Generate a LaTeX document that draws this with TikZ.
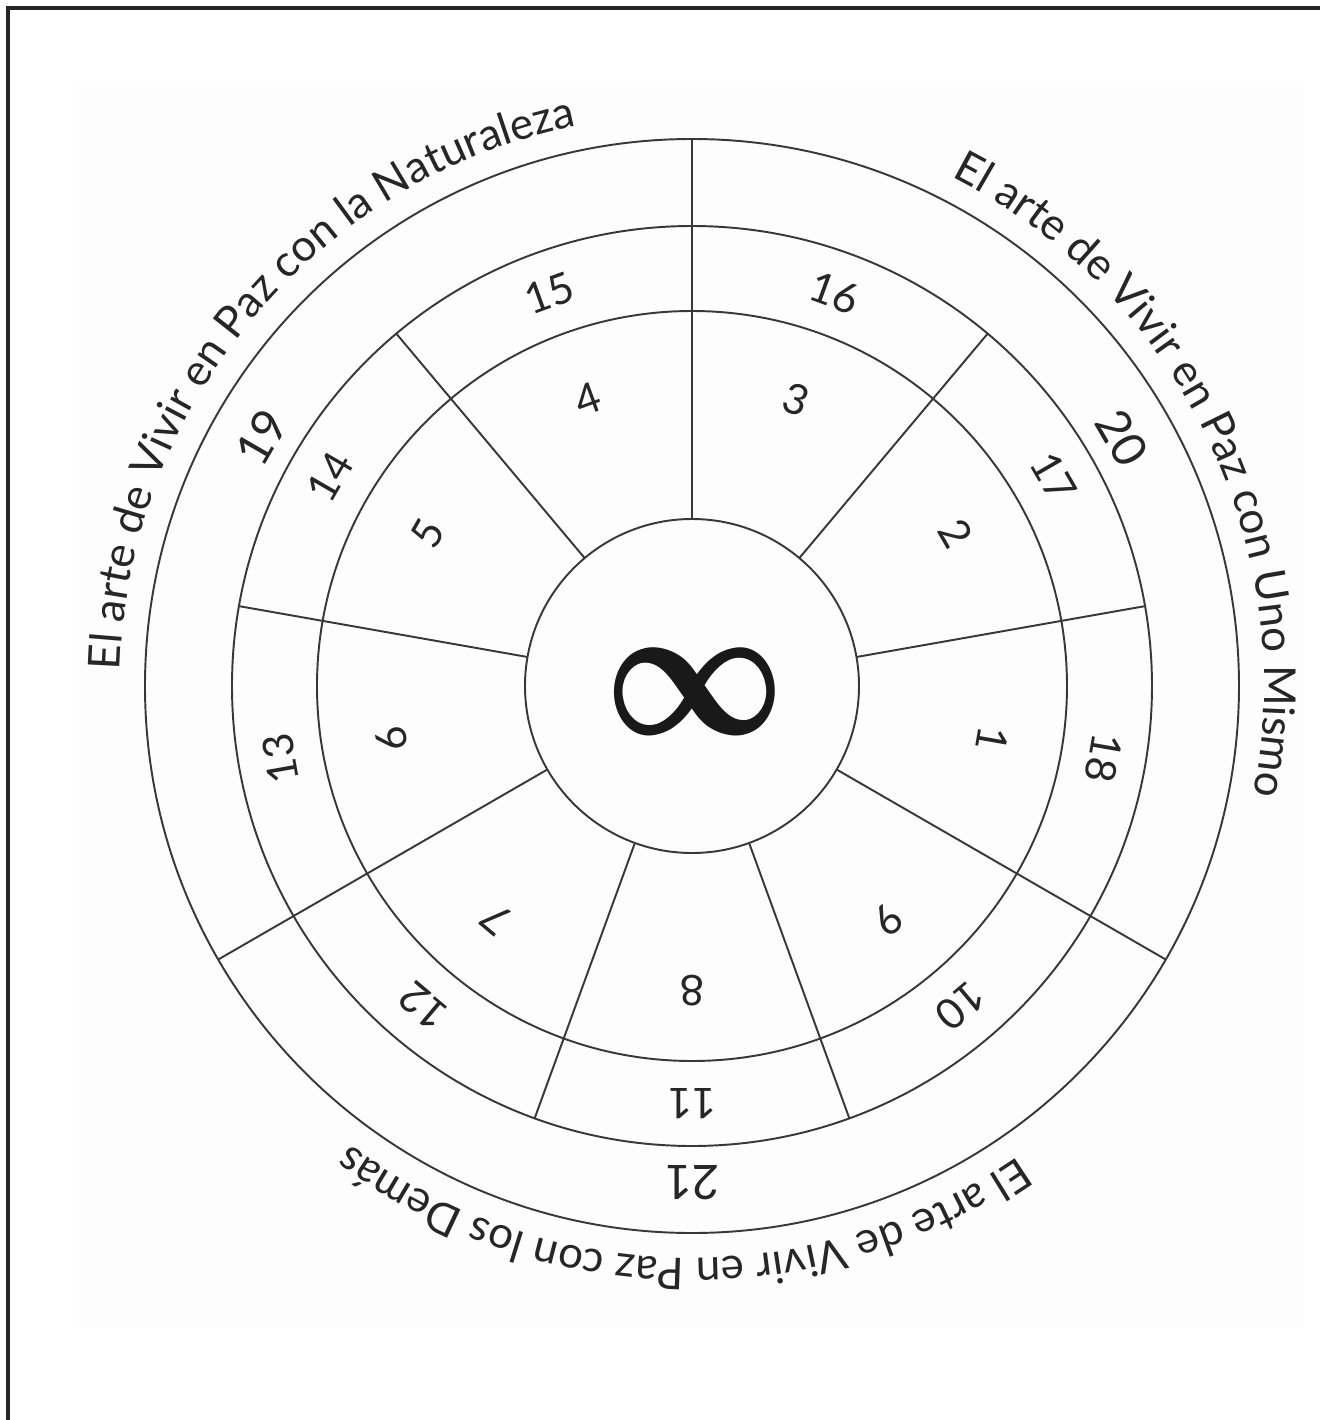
\documentclass[tikz,border=0pt]{standalone}
\usepackage{fontspec}
\usepackage{bm}
\usetikzlibrary{decorations.text}
\newfontfamily\gillfont{Lato}

\begin{document}
\begin{tikzpicture}[
    every node/.style={font=\gillfont, text=black!85},
    ring/.style={draw=black!78, line width=0.55pt},
    spoke/.style={draw=black!78, line width=0.55pt},
    num/.style={font=\gillfont\fontsize{12}{12}\selectfont, inner sep=0pt},
    bignum/.style={font=\gillfont\fontsize{13.5}{13.5}\selectfont, inner sep=0pt},
    arctext/.style={decorate, decoration={text along path, text align=center,
        text={|\gillfont\fontsize{12.5}{12.5}\selectfont\color{black!85}|#1}}}
]

    % ==========================
    % PAGE: margins, faint sheet and frame
    % ==========================
    \useasboundingbox (-6.92,-7.34) rectangle (6.28,6.86);
    \fill[black!0.7] (-6.13,-6.42) rectangle (6.11,6.04);
    \draw[black!85, line width=0.9pt] (-6.84,-7.34) -- (-6.84,6.78) -- (6.28,6.78);

    % ==========================
    % WHEEL: rings and spokes
    % ==========================
    \foreach \r in {1.67, 3.75, 4.60, 5.47}
        \draw[ring] (0,0) circle (\r);

    % short spokes stop at the third ring
    \foreach \angle in {10, 50, 130, 170, 250, 290}
        \draw[spoke] (\angle:1.67) -- (\angle:4.60);

    % long spokes split the outer ring in three
    \foreach \angle in {90, 210, 330}
        \draw[spoke] (\angle:1.67) -- (\angle:5.47);

    % ==========================
    % NUMBERS: top of each digit faces outward
    % ==========================
    \foreach \i/\angle in {1/350, 2/30, 3/70, 4/110, 5/150, 6/190, 7/230, 8/270, 9/310}
        \node[num, rotate=\angle-90] (n\i) at (\angle:3.05) {\i};

    \foreach \i/\angle in {10/310, 11/270, 12/230, 13/190, 14/150, 15/110, 16/70, 17/30, 18/350}
        \node[num, rotate=\angle-90] (n\i) at (\angle:4.18) {\i};

    \foreach \i/\angle in {19/150, 20/30, 21/270}
        \node[bignum, rotate=\angle-90] (n\i) at (\angle:4.97) {\i};

    % centre (glyph set twice, a hair apart, to make it heavier)
    \node[text=black!90] (infty) at (0.03,-0.06)
        {\scalebox{4.4}[5.4]{\rlap{$\bm{\infty}$}\raisebox{0.08pt}{\kern0.15pt$\bm{\infty}$}}};

    % ==========================
    % TEXT ROUND THE OUTSIDE (clockwise)
    % ==========================
    \path[arctext={El arte de Vivir en Paz con la Naturaleza}]
        (200:5.72) arc[start angle=200, end angle=80, radius=5.72];
    \path[arctext={El arte de Vivir en Paz con Uno Mismo}]
        (86:5.72) arc[start angle=86, end angle=-34, radius=5.72];
    \path[arctext={El arte de Vivir en Paz con los Demás}]
        (329:5.72) arc[start angle=329, end angle=209, radius=5.72];

\end{tikzpicture}
\end{document}
